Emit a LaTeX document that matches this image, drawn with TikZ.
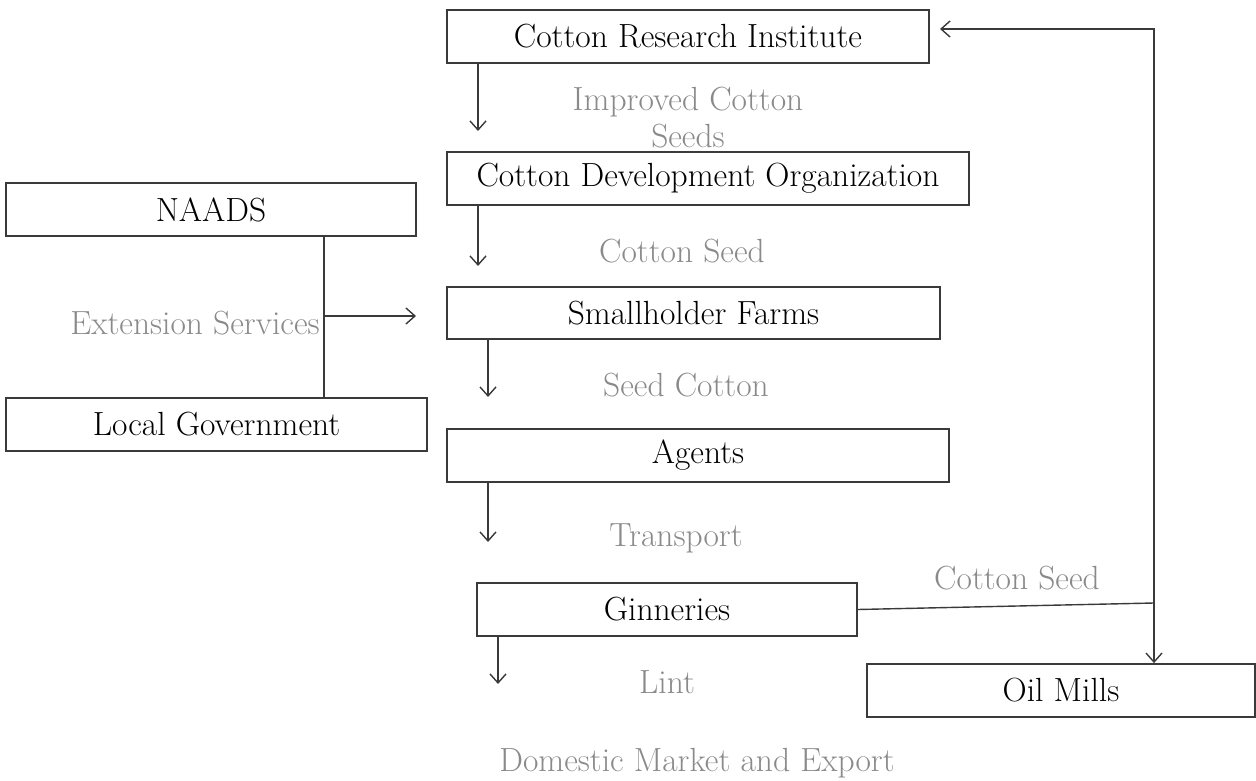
\documentclass[tikz,border=0pt]{standalone}
\usetikzlibrary{arrows.meta}
\definecolor{lbl}{HTML}{8A8A8A}
\definecolor{ln}{HTML}{3A3A3A}
\begin{document}
\begin{tikzpicture}[x=1pt,y=-1pt,
  box/.style={draw=ln, line width=1.8pt, fill=white, inner sep=0pt, font=\fontsize{33.5}{38}\selectfont, text=black},
  flow/.style={draw=ln, line width=1.4pt},
  arr/.style={flow, -{Straight Barb[length=9pt,width=16pt,line width=1.4pt]}},
  lab/.style={text=lbl, inner sep=0pt, font=\fontsize{33.5}{37}\selectfont, align=center}]
\useasboundingbox (0,0) rectangle (1256,781);
% boxes
\node[box, minimum width=482pt, minimum height=53pt] (cri) at (688,36.5) {Cotton Research Institute};
\node[box, minimum width=522pt, minimum height=53pt] (cdo) at (708,178.5) {Cotton Development Organization};
\node[box, minimum width=410pt, minimum height=53pt] (naads) at (211,209.5) {NAADS};
\node[box, minimum width=493pt, minimum height=52pt] (sf) at (693.5,313) {Smallholder Farms};
\node[box, minimum width=421pt, minimum height=53pt] (lg) at (216.5,424.5) {Local Government};
\node[box, minimum width=502pt, minimum height=53pt] (ag) at (698,455.5) {Agents};
\node[box, minimum width=380pt, minimum height=53pt] (gin) at (667,609.5) {Ginneries};
\node[box, minimum width=388pt, minimum height=53pt] (om) at (1061,690.5) {Oil Mills};
% labels
\node[lab] (l1) at (688,118) {Improved Cotton\\Seeds};
\node[lab] (l2) at (682,251) {Cotton Seed};
\node[lab] (l3) at (195,323) {Extension Services};
\node[lab] (l4) at (686,385) {Seed Cotton};
\node[lab] (l5) at (676,538) {Transport};
\node[lab] (l6) at (1017,578) {Cotton Seed};
\node[lab] (l7) at (667,682) {Lint};
\node[lab] (l8) at (697,763) {Domestic Market and Export};
% coordinates
\coordinate (e1) at (478,131);
\coordinate (e2) at (478,266);
\coordinate (e3) at (488,397);
\coordinate (e4) at (488,542);
\coordinate (e5) at (498,684);
\coordinate (ext) at (324,316);
\coordinate (extend) at (416,316);
\coordinate (j) at (1154,603);
\coordinate (top) at (1154,29);
\coordinate (crit) at (940,29);
% vertical flow arrows
\draw[arr] (cri.south -| e1) -- (e1);
\draw[arr] (cdo.south -| e2) -- (e2);
\draw[arr] (sf.south -| e3) -- (e3);
\draw[arr] (ag.south -| e4) -- (e4);
\draw[arr] (gin.south -| e5) -- (e5);
% extension services
\draw[flow] (naads.south -| ext) -- (lg.north -| ext);
\draw[arr] (ext) -- (extend);
% cotton seed loop
\draw[flow] (gin.east) -- (j);
\draw[arr] (j) -- (top) -- (crit);
\draw[arr] (j) -- (om.north -| j);
\end{tikzpicture}
\end{document}
